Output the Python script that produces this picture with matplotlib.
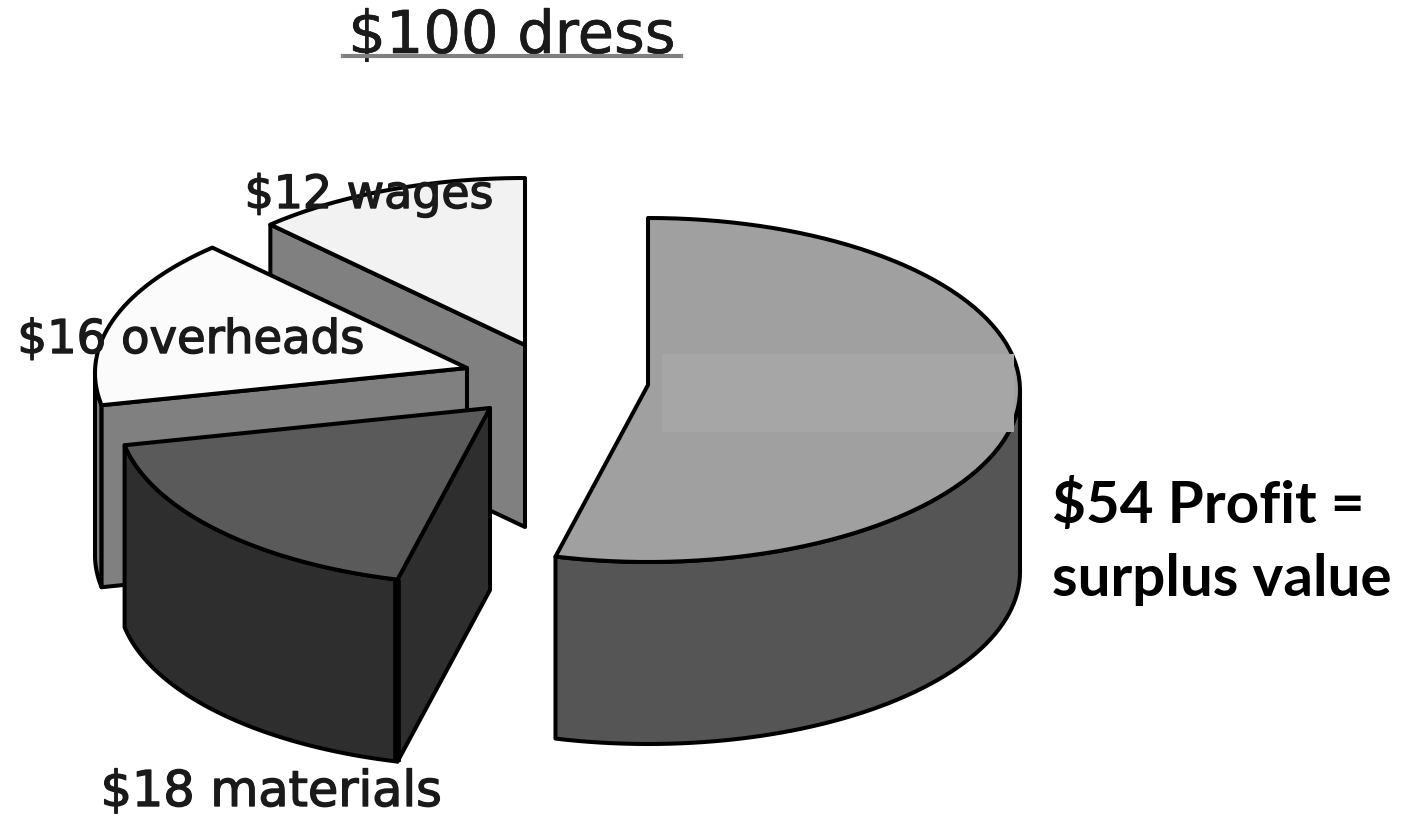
import numpy as np
import matplotlib
matplotlib.use("Agg")
import matplotlib.pyplot as plt
import matplotlib.patheffects as pe
from matplotlib.patches import Polygon, Rectangle

# ---- data ----
categories = ["Profit", "materials", "overheads", "wages"]
values = [54, 18, 16, 12]
title_text = "$100 dress"
label_wages = "$12 wages"
label_overheads = "$16 overheads"
label_materials = "$18 materials"
label_profit = ["$54 Profit =", "surplus value"]

# ---- style / layout ----
centres = {"Profit": (648, 390), "materials": (490, 413),
           "overheads": (467, 373), "wages": (525, 350)}
top_col = {"Profit": "#a0a0a0", "materials": "#5a5a5a",
           "overheads": "#fbfbfb", "wages": "#f2f2f2"}
side_col = {"Profit": "#555555", "materials": "#2e2e2e",
            "overheads": "#808080", "wages": "#808080"}
RX, RY, DEPTH = 372, 172, 182
APEX_LIFT = 5
START = 90.0
LW = 2.9

fig = plt.figure(figsize=(14.2, 8.16), dpi=100, facecolor="white")
ax = fig.add_axes([0, 0, 1, 1])
ax.set_xlim(0, 1420)
ax.set_ylim(816, 0)
ax.axis("off")


def pts(c, a0, a1, n=60):
    t = np.radians(np.linspace(a0, a1, n))
    return np.column_stack([c[0] + RX * np.cos(t), c[1] - RY * np.sin(t)])


def poly(xy, fc, z):
    ax.add_patch(Polygon(xy, closed=True, fc=fc, ec="black", lw=LW,
                         joinstyle="round", zorder=z))


# slice angles (clockwise from 12 o'clock, in proportion to the values)
angles = {}
a = START
for name, v in zip(categories, values):
    angles[name] = (a, a - v * 3.6)
    a -= v * 3.6

z = 1
for name in ["wages", "overheads", "materials", "Profit"]:
    a0, a1 = angles[name]
    c = centres[name]
    apex = np.array([c[0], c[1] - APEX_LIFT], float)
    # outer wall: part of the slice on the front half of the ellipse
    s0, s1 = min(a0, 0.0), max(a1, -180.0)
    if s0 > s1:
        rim = pts(c, s0, s1)
        poly(np.vstack([rim, (rim + [0, DEPTH])[::-1]]), side_col[name], z)
    # cut face that looks towards the viewer
    if np.cos(np.radians(a0)) < -1e-6:
        e = pts(c, a0, a0, 1)[0]
        poly([apex, e, e + [0, DEPTH], apex + [0, DEPTH]], side_col[name], z)
        if name == "materials":
            ax.plot([e[0], e[0]], [e[1], e[1] + DEPTH], color="black",
                    lw=5.5, zorder=z + 0.5, solid_capstyle="butt")
    # top face
    arc = pts(c, a0, a1, 90)
    poly(np.vstack([[apex], arc]), top_col[name], z + 1)
    z += 2

# lighter rectangular artefact on the profit slice
ax.add_patch(Rectangle((662, 354), 352, 78, fc="#a6a6a6", ec="none", zorder=z))

# ---- text ----
ink = "#1a1a1a"
halo = [pe.withStroke(linewidth=1.0, foreground=ink)]
ax.text(512, 53, title_text, fontsize=42.5, family="DejaVu Sans", color=ink,
        ha="center", va="baseline", zorder=z + 1,
        path_effects=[pe.withStroke(linewidth=0.5, foreground=ink)])
ax.plot([343, 681], [56, 56], color="#808080", lw=3, zorder=z + 1)
ax.text(369, 208, label_wages, fontsize=33, family="DejaVu Sans", color=ink,
        ha="center", va="baseline", zorder=z + 1, path_effects=halo)
ax.text(191, 353, label_overheads, fontsize=33.5, family="DejaVu Sans", color=ink,
        ha="center", va="baseline", zorder=z + 1, path_effects=halo)
ax.text(271, 806, label_materials, fontsize=35.5, family="DejaVu Sans", color=ink,
        ha="center", va="baseline", zorder=z + 1, path_effects=halo)
ax.text(1052, 523, label_profit[0], fontsize=42, family="Lato",
        weight="bold", color="black", ha="left", va="baseline", zorder=z + 1)
ax.text(1052, 596, label_profit[1], fontsize=42, family="Lato",
        weight="bold", color="black", ha="left", va="baseline", zorder=z + 1)

fig.savefig("out.png", dpi=100, facecolor="white")
